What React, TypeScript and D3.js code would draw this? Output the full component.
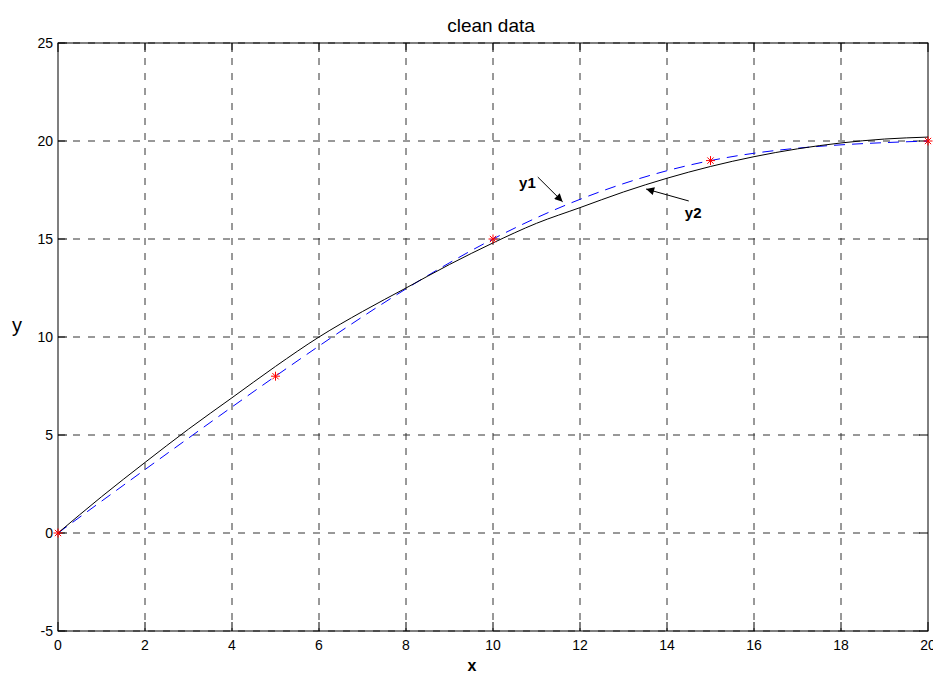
import React, { useEffect, useRef } from "react";
import * as d3 from "d3";

// DATA
const xTicks = [0, 2, 4, 6, 8, 10, 12, 14, 16, 18, 20];
const yTicks = [-5, 0, 5, 10, 15, 20, 25];

// y1: measured samples (red stars, blue dashed)
const sampleX = [0, 5, 10, 15, 20];
const sampleY = [0, 8, 15, 19, 20];

// y2: smooth fit (black solid)
const fitX = [0, 1, 2, 3, 4, 5, 6, 7, 8, 9, 10, 11, 12, 13, 14, 15, 16, 17, 18, 19, 20];
const fitY = [0, 1.85, 3.6, 5.3, 6.9, 8.5, 10.0, 11.3, 12.5, 13.7, 14.8, 15.8, 16.6, 17.4, 18.1, 18.7, 19.2, 19.6, 19.9, 20.1, 20.2];

// ANNOTATIONS (data coords)
const labels = [
  { text: "y1", x: 10.6, y: 17.6, fromX: 11.03, fromY: 18.16, toX: 11.6, toY: 16.9 },
  { text: "y2", x: 14.41, y: 16.07, fromX: 14.5, fromY: 16.94, toX: 13.52, toY: 17.55 },
];

export default function App() {
  const ref = useRef<SVGSVGElement | null>(null);

  useEffect(() => {
    const W = 933;
    const H = 675;
    const margin = { top: 43, right: 5, bottom: 44, left: 58 };
    const width = W - margin.left - margin.right;
    const height = H - margin.top - margin.bottom;
    const font = "'Liberation Sans', Arial, sans-serif";

    const root = d3.select(ref.current);
    root.selectAll("*").remove();

    const defs = root.append("defs");
    defs
      .append("marker")
      .attr("id", "arrow")
      .attr("viewBox", "0 0 10 10")
      .attr("refX", 10)
      .attr("refY", 5)
      .attr("markerWidth", 10)
      .attr("markerHeight", 8)
      .attr("markerUnits", "userSpaceOnUse")
      .attr("orient", "auto")
      .append("path")
      .attr("d", "M0,0 L10,5 L0,10 Z")
      .attr("fill", "#000");

    const svg = root
      .append("g")
      .attr("transform", `translate(${margin.left},${margin.top})`);

    // SCALES
    const xScale = d3.scaleLinear().domain([0, 20]).range([0, width]);
    const yScale = d3.scaleLinear().domain([-5, 25]).range([height, 0]);

    // GRID
    svg
      .append("g")
      .selectAll("line")
      .data(xTicks.slice(1, -1))
      .join("line")
      .attr("x1", (d) => xScale(d))
      .attr("x2", (d) => xScale(d))
      .attr("y1", 0)
      .attr("y2", height)
      .attr("stroke", "#333")
      .attr("stroke-dasharray", "7,8");

    svg
      .append("g")
      .selectAll("line")
      .data(yTicks)
      .join("line")
      .attr("x1", 0)
      .attr("x2", width)
      .attr("y1", (d) => yScale(d))
      .attr("y2", (d) => yScale(d))
      .attr("stroke", "#333")
      .attr("stroke-dasharray", "7,8");

    // BOX
    svg
      .append("rect")
      .attr("x", 0)
      .attr("y", 0)
      .attr("width", width)
      .attr("height", height)
      .attr("fill", "none")
      .attr("stroke", "#000");

    // TICKS (inside, all four sides)
    const tl = 9;
    const ticks = svg.append("g").attr("stroke", "#000");
    xTicks.forEach((t) => {
      ticks.append("line").attr("x1", xScale(t)).attr("x2", xScale(t)).attr("y1", height).attr("y2", height - tl);
      ticks.append("line").attr("x1", xScale(t)).attr("x2", xScale(t)).attr("y1", 0).attr("y2", tl);
    });
    yTicks.forEach((t) => {
      ticks.append("line").attr("x1", 0).attr("x2", tl).attr("y1", yScale(t)).attr("y2", yScale(t));
      ticks.append("line").attr("x1", width).attr("x2", width - tl).attr("y1", yScale(t)).attr("y2", yScale(t));
    });

    // TICK LABELS
    svg
      .append("g")
      .selectAll("text")
      .data(xTicks)
      .join("text")
      .attr("x", (d) => xScale(d))
      .attr("y", height + 19)
      .attr("text-anchor", "middle")
      .attr("font-family", font)
      .attr("font-size", 14)
      .text((d) => d);

    svg
      .append("g")
      .selectAll("text")
      .data(yTicks)
      .join("text")
      .attr("x", -5)
      .attr("y", (d) => yScale(d))
      .attr("dy", "0.36em")
      .attr("text-anchor", "end")
      .attr("font-family", font)
      .attr("font-size", 14)
      .text((d) => d);

    // LINES
    const fit = fitX.map((x, i) => ({ x, y: fitY[i] }));
    const samples = sampleX.map((x, i) => ({ x, y: sampleY[i] }));

    const line = d3
      .line<{ x: number; y: number }>()
      .x((d) => xScale(d.x))
      .y((d) => yScale(d.y));

    svg
      .append("path")
      .datum(samples)
      .attr("fill", "none")
      .attr("stroke", "#0000ff")
      .attr("stroke-width", 1)
      .attr("stroke-dasharray", "11,7")
      .attr("d", line.curve(d3.curveNatural));

    svg
      .append("path")
      .datum(fit)
      .attr("fill", "none")
      .attr("stroke", "#000")
      .attr("stroke-width", 1)
      .attr("d", line.curve(d3.curveMonotoneX));

    // RED STARS
    const r = 4.5;
    const stars = svg.append("g").attr("stroke", "#ff0000").attr("stroke-width", 1);
    samples.forEach((d) => {
      const cx = xScale(d.x);
      const cy = yScale(d.y);
      const p = d3.path();
      p.moveTo(cx - r, cy);
      p.lineTo(cx + r, cy);
      p.moveTo(cx, cy - r);
      p.lineTo(cx, cy + r);
      p.moveTo(cx - r * 0.7, cy - r * 0.7);
      p.lineTo(cx + r * 0.7, cy + r * 0.7);
      p.moveTo(cx - r * 0.7, cy + r * 0.7);
      p.lineTo(cx + r * 0.7, cy - r * 0.7);
      stars.append("path").attr("d", p.toString());
    });

    // ANNOTATIONS
    labels.forEach((l) => {
      svg
        .append("line")
        .attr("x1", xScale(l.fromX))
        .attr("y1", yScale(l.fromY))
        .attr("x2", xScale(l.toX))
        .attr("y2", yScale(l.toY))
        .attr("stroke", "#000")
        .attr("marker-end", "url(#arrow)");
      svg
        .append("text")
        .attr("x", xScale(l.x))
        .attr("y", yScale(l.y))
        .attr("font-family", font)
        .attr("font-size", 15)
        .attr("font-weight", "bold")
        .text(l.text);
    });

    // TITLE & AXIS LABELS
    root
      .append("text")
      .attr("x", 491)
      .attr("y", 32)
      .attr("text-anchor", "middle")
      .attr("font-family", font)
      .attr("font-size", 19)
      .text("clean data");

    root
      .append("text")
      .attr("x", 472)
      .attr("y", 671)
      .attr("text-anchor", "middle")
      .attr("font-family", font)
      .attr("font-size", 16)
      .attr("font-weight", "bold")
      .text("x");

    root
      .append("text")
      .attr("x", 17)
      .attr("y", 332)
      .attr("text-anchor", "middle")
      .attr("font-family", font)
      .attr("font-size", 20)
      .text("y");
  }, []);

  return (
    <svg
      ref={ref}
      width={933}
      height={675}
      style={{ position: "absolute", left: 0, top: 0, background: "#fff" }}
    />
  );
}
